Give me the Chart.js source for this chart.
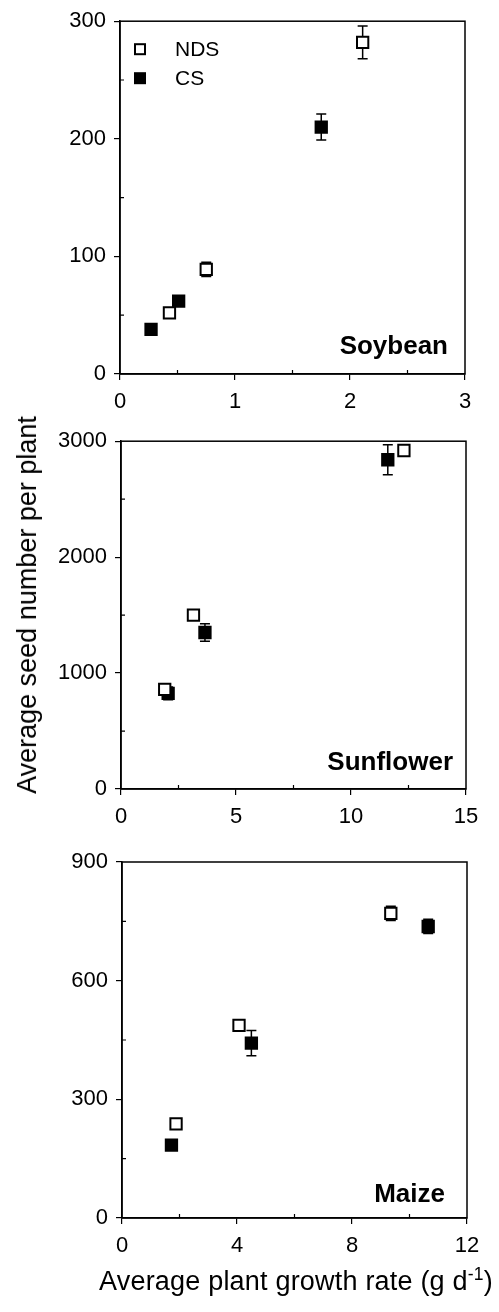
<!DOCTYPE html>
<html><head><meta charset="utf-8">
<script src="https://cdn.jsdelivr.net/npm/chart.js@4/dist/chart.umd.min.js"></script>
<style>
html,body{margin:0;padding:0;background:#fff;}
#wrap{position:relative;width:499px;height:1312px;overflow:hidden;background:#fff;}
canvas{position:absolute;left:0;}
.ttl{position:absolute;white-space:nowrap;font:27px "Liberation Sans",Arial,sans-serif;color:#000;line-height:30px;}
.ttl sup{font-size:65%;line-height:0;vertical-align:0.55em;}
#ytitle{left:27px;top:605px;transform:translate(-50%,-50%) rotate(-90deg);}
#xtitle{left:296px;top:1266px;transform:translateX(-50%);letter-spacing:0.2px;}
</style></head><body>
<div id="wrap">
<canvas id="c1" width="499" height="420" style="top:0"></canvas>
<canvas id="c2" width="499" height="420" style="top:420px"></canvas>
<canvas id="c3" width="499" height="472" style="top:840px"></canvas>
<div class="ttl" id="ytitle">Average seed number per plant</div>
<div class="ttl" id="xtitle">Average plant growth rate (g d<sup>-1</sup>)</div>
</div>
<script>
// valores (x = tasa de crecimiento, y = semillas por planta, err = barra)
var SERIES=['NDS','CS'];

var soyXTicks=[0,1,2,3], soyYTicks=[0,100,200,300];
var soyNdsX=[0.43,0.75,2.11], soyNdsY=[52,89,282], soyNdsErr=[0,6,14];
var soyCsX=[0.27,0.51,1.75], soyCsY=[38,62,210], soyCsErr=[0,0,11];

var sunXTicks=[0,5,10,15], sunYTicks=[0,1000,2000,3000];
var sunNdsX=[1.9,3.15,12.3], sunNdsY=[860,1500,2920], sunNdsErr=[0,0,45];
var sunCsX=[2.05,3.65,11.6], sunCsY=[825,1350,2840], sunCsErr=[55,75,130];

var maiXTicks=[0,4,8,12], maiYTicks=[0,300,600,900];
var maiNdsX=[1.88,4.07,9.35], maiNdsY=[238,487,770], maiNdsErr=[0,0,18];
var maiCsX=[1.72,4.5,10.65], maiCsY=[184,442,737], maiCsErr=[0,32,18];

var FONT='"Liberation Sans", Arial, sans-serif';
var pts=function(xs,ys){return xs.map(function(x,i){return {x:x,y:ys[i]};});};

// barras de error, antes de los puntos
var errBars={id:'errBars',beforeDatasetsDraw:function(ch){
  var c=ch.ctx,sx=ch.scales.x,sy=ch.scales.y;c.save();c.strokeStyle='#000';c.lineWidth=1.5;
  ch.data.datasets.forEach(function(ds){(ds.err||[]).forEach(function(e,i){
    if(!e)return;var p=ds.data[i],px=sx.getPixelForValue(p.x),y1=sy.getPixelForValue(p.y+e),y2=sy.getPixelForValue(p.y-e);
    c.beginPath();c.moveTo(px,y1);c.lineTo(px,y2);c.moveTo(px-5,y1);c.lineTo(px+5,y1);c.moveTo(px-5,y2);c.lineTo(px+5,y2);c.stroke();
  });});c.restore();}};

// marco + ticks menores
var frame={id:'frame',afterDraw:function(ch){
  var c=ch.ctx,a=ch.chartArea,sx=ch.scales.x,sy=ch.scales.y;c.save();c.strokeStyle='#000';c.lineWidth=1.5;
  c.strokeRect(a.left,a.top,a.right-a.left,a.bottom-a.top);
  c.lineWidth=1.2;c.beginPath();
  for(var i=0;i<sx.ticks.length-1;i++){var px=sx.getPixelForValue((sx.ticks[i].value+sx.ticks[i+1].value)/2);c.moveTo(px,a.bottom);c.lineTo(px,a.bottom-4);}
  for(var j=0;j<sy.ticks.length-1;j++){var py=sy.getPixelForValue((sy.ticks[j].value+sy.ticks[j+1].value)/2);c.moveTo(a.left,py);c.lineTo(a.left+4,py);}
  c.stroke();c.restore();}};

// rotulo del panel y leyenda
var labels={id:'labels',afterDraw:function(ch,args,o){
  var c=ch.ctx,a=ch.chartArea;c.save();c.fillStyle='#000';
  c.font='bold 26px '+FONT;c.textAlign='right';c.textBaseline='alphabetic';
  c.fillText(o.text,a.right-o.dx,a.bottom-o.dy);
  if(o.legend){
    c.font='21px '+FONT;c.textAlign='left';c.textBaseline='middle';
    ch.data.datasets.forEach(function(ds,i){
      var y=a.top+28+i*29,x=a.left+20;
      c.fillStyle=ds.backgroundColor;c.fillRect(x-5,y-5,10,10);
      c.strokeStyle='#000';c.lineWidth=2;c.strokeRect(x-5,y-5,10,10);
      c.fillStyle='#000';c.fillText(ds.label,a.left+55,y+1);
    });
  }
  c.restore();}};

function axis(ticks,pad){
  return {type:'linear',min:ticks[0],max:ticks[ticks.length-1],
    afterBuildTicks:function(s){s.ticks=ticks.map(function(v){return {value:v};});},
    ticks:{color:'#000',font:{family:FONT,size:22},padding:pad,callback:function(v){return String(v);}},
    grid:{drawOnChartArea:false,color:'#000',lineWidth:1.2,tickLength:6},
    border:{display:true,color:'#000',width:1.5}};
}

function panel(id,H,area,xt,yt,nx,ny,ne,cx,cy,ce,txt,dx,dy,legend){
  var x=axis(xt,9),y=axis(yt,8);
  x.afterFit=function(s){s.height=H-area.b;};
  y.afterFit=function(s){s.width=area.l;};
  new Chart(document.getElementById(id),{type:'scatter',
    data:{datasets:[
      {label:SERIES[0],data:pts(nx,ny),err:ne,pointStyle:'rect',pointRadius:8,pointHoverRadius:8,backgroundColor:'#fff',borderColor:'#000',borderWidth:2},
      {label:SERIES[1],data:pts(cx,cy),err:ce,pointStyle:'rect',pointRadius:8,pointHoverRadius:8,backgroundColor:'#000',borderColor:'#000',borderWidth:2}]},
    options:{responsive:false,animation:false,
      layout:{padding:{left:0,right:499-area.r,top:area.t,bottom:0}},
      scales:{x:x,y:y},
      plugins:{legend:{display:false},tooltip:{enabled:false},labels:{text:txt,dx:dx,dy:dy,legend:legend}}},
    plugins:[errBars,frame,labels]});
}

panel('c1',420,{l:120,r:465,t:18,b:374},soyXTicks,soyYTicks,soyNdsX,soyNdsY,soyNdsErr,soyCsX,soyCsY,soyCsErr,'Soybean',17,20,true);
panel('c2',420,{l:121,r:466,t:14,b:369},sunXTicks,sunYTicks,sunNdsX,sunNdsY,sunNdsErr,sunCsX,sunCsY,sunCsErr,'Sunflower',13,19,false);
panel('c3',472,{l:122,r:467,t:22,b:378},maiXTicks,maiYTicks,maiNdsX,maiNdsY,maiNdsErr,maiCsX,maiCsY,maiCsErr,'Maize',22,16,false);
</script>
</body></html>
